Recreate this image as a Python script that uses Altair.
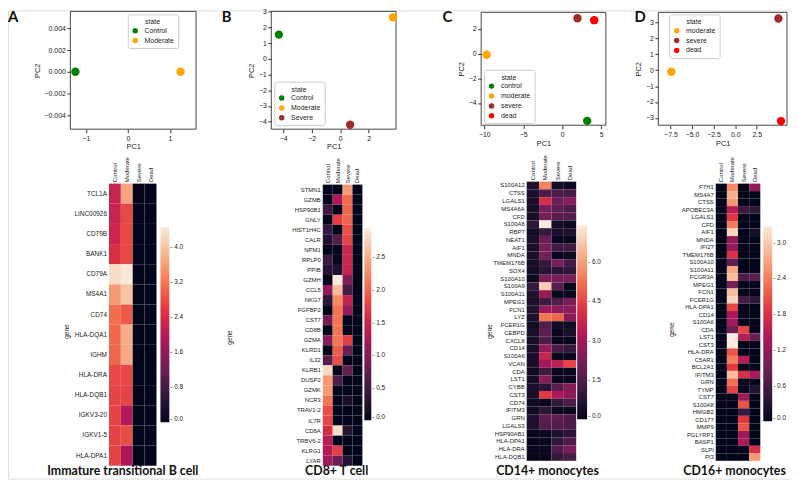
import altair as alt
import pandas as pd

# ---------------- data ----------------
HEAT_STATES = ["Control", "Moderate", "Severe", "Dead"]
ROCKET = ["#03051a", "#35193e", "#701f57", "#ad1759", "#e13342", "#f37651", "#f6b48f", "#faebdd"]

# PCA scatter data
a_states = ["Control", "Moderate"]
a_pc1 = [-1.25, 1.25]
a_pc2 = [0.0, 0.0]
a_colors = ["#008000", "#ffa500"]

b_states = ["Control", "Moderate", "Severe"]
b_pc1 = [-4.3, 3.7, 0.7]
b_pc2 = [1.55, 2.65, -4.2]
b_colors = ["#008000", "#ffa500", "#a52a2a"]

c_states = ["control", "moderate", "severe", "dead"]
c_pc1 = [3.2, -9.7, 1.95, 4.1]
c_pc2 = [-5.45, -0.1, 2.85, 2.7]
c_colors = ["#008000", "#ffa500", "#a52a2a", "#ff0000"]

d_states = ["moderate", "severe", "dead"]
d_pc1 = [-7.4, 5.0, 5.3]
d_pc2 = [-0.1, 3.25, -3.2]
d_colors = ["#ffa500", "#a52a2a", "#ff0000"]

# Heatmap A: Immature transitional B cell
a_genes = ["TCL1A", "LINC00926", "CD79B", "BANK1", "CD79A", "MS4A1", "CD74", "HLA-DQA1",
           "IGHM", "HLA-DRA", "HLA-DQB1", "IGKV3-20", "IGKV1-5", "HLA-DPA1"]
a_control = [2.2, 2.2, 2.25, 2.45, 4.25, 3.55, 3.1, 3.05, 3.05, 2.75, 2.7, 2.7, 2.7, 2.7]
a_moderate = [3.65, 2.75, 2.75, 2.75, 4.4, 4.0, 2.9, 3.75, 3.7, 2.75, 2.7, 1.95, 2.8, 1.9]
a_severe = [0, 0, 0, 0, 0, 0, 0, 0, 0, 0, 0, 0, 0, 0]
a_dead = [0, 0, 0, 0, 0, 0, 0, 0, 0, 0, 0, 0, 0, 0]

# Heatmap B: CD8+ T cell
b_genes = ["STMN1", "GZMB", "HSP90B1", "GNLY", "HIST1H4C", "CALR", "NPM1", "RPLP0", "PPIB",
           "GZMH", "CCL5", "NKG7", "FGFBP2", "CST7", "CD8B", "GZMA", "KLRD1", "IL32", "KLRB1",
           "DUSP2", "GZMK", "NCR3", "TRAV1-2", "IL7R", "CD8A", "TRBV6-2", "KLRG1", "LYAR"]
b_control = [0, 0, 0.45, 0, 0.4, 0.25, 0, 0.45, 0.3, 0, 1.1, 0.35, 0, 0.85, 0, 1.0, 0, 0.65,
             2.8, 2.35, 2.35, 2.1, 1.85, 1.8, 1.6, 1.35, 1.3, 1.2]
b_moderate = [0, 1.3, 0, 1.75, 0, 0.65, 0, 0, 0.25, 2.95, 2.6, 2.25, 2.1, 2.1, 2.1, 2.1, 1.95,
              1.85, 0, 0.6, 0, 0, 0, 0, 2.85, 0, 1.75, 0.8]
b_severe = [2.35, 2.05, 2.0, 2.0, 1.85, 1.8, 1.5, 1.5, 1.45, 0.95, 0.55, 1.45, 1.1, 0, 0, 1.75,
            0.8, 0, 0.75, 0, 0, 0.2, 0, 0, 0.3, 0, 0, 0.3]
b_dead = [0, 0, 0, 0, 0, 0, 0, 0, 0, 0, 0, 0, 0, 0, 0, 0, 0, 0, 0, 0, 0, 0, 0, 0, 0, 0, 0, 0]

# Heatmap C: CD14+ monocytes
c_genes = ["S100A12", "CTSS", "LGALS1", "MS4A6A", "CFD", "S100A8", "RBP7", "NEAT1", "AIF1",
           "MNDA", "TMEM176B", "SOX4", "S100A10", "S100A9", "S100A11", "MPEG1", "FCN1", "LYZ",
           "FCER1G", "CEBPD", "CXCL8", "CD14", "S100A6", "VCAN", "CDA", "LST1", "CYBB", "CST3",
           "CD74", "IFITM3", "GRN", "LGALS3", "HSP90AB1", "HLA-DPA1", "HLA-DRA", "HLA-DQB1"]
c_control = [0.6, 0.5, 0.5, 0.4, 0.4, 0.9, 0.3, 0.5, 0.5, 0.5, 0.4, 0.3, 0.2, 1.0, 0.6, 0.5,
             0.6, 0.6, 0.3, 0.5, 0.5, 0.5, 0.5, 0.5, 0.3, 0.4, 0.5, 0.4, 0.3, 0.3, 0.6, 0.6,
             0.1, 0.1, 0.1, 0.1]
c_moderate = [5.5, 1.5, 4.0, 2.2, 2.2, 7.4, 1.1, 2.0, 2.2, 2.2, 1.0, 0.8, 2.3, 6.8, 2.8, 1.2,
              2.9, 5.3, 1.6, 1.8, 1.5, 2.7, 3.7, 3.0, 1.2, 2.6, 0.8, 4.3, 0.1, 0.9, 1.8, 1.6,
              0.1, 0.1, 0.1, 0.1]
c_severe = [0.4, 1.5, 2.0, 1.8, 1.7, 0.4, 0.5, 0.1, 1.3, 0.1, 2.2, 0.8, 2.2, 1.7, 0.1, 1.5,
            2.6, 5.0, 0.3, 0.1, 0.1, 1.4, 0.1, 3.5, 0.1, 0.1, 1.7, 3.2, 1.0, 0.2, 1.8, 1.6,
            0.6, 1.0, 1.5, 1.0]
c_dead = [0.2, 1.4, 2.5, 1.5, 1.7, 0.2, 0.6, 0.1, 1.3, 0.2, 1.3, 0.9, 2.3, 0.1, 0.1, 2.2,
          2.6, 2.5, 0.3, 0.5, 0.1, 1.0, 0.1, 4.5, 0.1, 0.1, 2.5, 2.6, 1.5, 0.2, 1.5, 1.5,
          0.8, 1.5, 2.3, 1.4]

# Heatmap D: CD16+ monocytes
d_genes = ["FTH1", "MS4A7", "CTSS", "APOBEC3A", "LGALS1", "CFD", "AIF1", "MNDA", "IFI27",
           "TMEM176B", "S100A10", "S100A11", "FCGR3A", "MPEG1", "FCN1", "FCER1G", "HLA-DPA1",
           "CD14", "S100A6", "CDA", "LST1", "CST3", "HLA-DRA", "C5AR1", "BCL2A1", "IFITM3",
           "GRN", "TYMP", "CST7", "S100A8", "HMGB2", "CD177", "MMP9", "PGLYRP1", "BASP1",
           "SLPI", "PI3"]
d_control = [0, 0, 0, 0, 0, 0, 0, 0, 0, 0, 0, 0, 0, 0, 0, 0, 0, 0, 0, 0, 0, 0, 0, 0, 0, 0,
             0, 0, 0, 0, 0, 0, 0, 0, 0, 0, 0]
d_moderate = [2.5, 2.8, 2.6, 1.5, 1.9, 2.4, 3.1, 1.2, 1.2, 1.8, 0.8, 2.7, 2.9, 1.0, 2.9, 3.1,
              2.0, 1.4, 1.3, 0.9, 3.28, 3.28, 2.1, 2.4, 1.9, 2.9, 2.3, 2.0, 0, 0, 0, 0, 0, 0,
              0, 0, 0]
d_severe = [0, 0, 0, 0.5, 0, 0, 0, 0, 0, 0, 0, 0, 0.7, 0, 0, 0.6, 0, 0, 0, 2.0, 1.5, 0, 0,
            1.5, 0, 1.8, 0, 0, 1.3, 2.1, 0.5, 1.9, 2.1, 1.3, 1.4, 0, 0]
d_dead = [1.2, 0, 0, 0.4, 0, 0, 0.2, 0, 0, 0, 0, 0, 0.8, 0, 0, 0.4, 0, 0, 0, 0, 0.9, 0, 0, 0,
          0, 1.4, 0, 0.3, 0, 0, 0, 0, 0, 0, 0, 1.8, 2.6]

W, H = 790, 473
FONT = "Liberation Sans"
TXT = "#222222"


def scatter(states, pc1, pc2, colors, xdom, ydom, xr, yr, xticks, yticks, xfmt, yfmt, lx, ly):
    df = pd.DataFrame({"state": states, "PC1": pc1, "PC2": pc2})
    fr = pd.DataFrame({"x0": [xdom[0]], "x1": [xdom[1]], "y0": [ydom[0]], "y1": [ydom[1]]})
    frame = alt.Chart(fr).mark_rect(fillOpacity=0, stroke="#333333", strokeWidth=0.9).encode(
        x=alt.X("x0:Q", scale=alt.Scale(domain=xdom, range=xr, nice=False, zero=False), axis=None),
        x2="x1",
        y=alt.Y("y0:Q", scale=alt.Scale(domain=ydom, range=yr, nice=False, zero=False), axis=None),
        y2="y1")
    pts = alt.Chart(df).mark_circle(size=72, opacity=1).encode(
        x=alt.X("PC1:Q", scale=alt.Scale(domain=xdom, range=xr, nice=False, zero=False),
                axis=alt.Axis(
            orient="bottom", offset=yr[0] - H, values=xticks, format=xfmt, title="PC1",
            domain=False, grid=False, tickSize=3.5, tickColor="#333333", labelFontSize=7,
            labelColor=TXT, labelFont=FONT, labelPadding=1.5, titleFont=FONT, titleFontSize=7.5,
            titleFontWeight="normal", titleColor=TXT, titlePadding=2, labelFlush=False)),
        y=alt.Y("PC2:Q", scale=alt.Scale(domain=ydom, range=yr, nice=False, zero=False),
                axis=alt.Axis(
            orient="left", offset=-xr[0], values=yticks, format=yfmt, title="PC2",
            domain=False, grid=False, tickSize=3.5, tickColor="#333333", labelFontSize=7,
            labelColor=TXT, labelFont=FONT, labelPadding=1.5, titleFont=FONT, titleFontSize=7.5,
            titleFontWeight="normal", titleColor=TXT, titlePadding=3, labelFlush=False)),
        color=alt.Color("state:N", sort=states, scale=alt.Scale(domain=states, range=colors),
                        legend=alt.Legend(
                            orient="none", legendX=lx, legendY=ly, title="state",
                            titleFontSize=7, titleFontWeight="normal", titleColor=TXT,
                            titleFont=FONT, titleAnchor="middle", titlePadding=2,
                            labelFontSize=7, labelColor=TXT, labelFont=FONT, symbolSize=30,
                            symbolType="circle", symbolStrokeWidth=0, strokeColor="#cccccc",
                            fillColor="white", padding=4, cornerRadius=2, rowPadding=2,
                            labelOffset=6)))
    return [frame, pts]


def heatmap(genes, cols, vmax, xr, yr, ticks, fmt, lx, ly, gw, glen, tx, ty, lfs):
    rows = []
    for si, s in enumerate(HEAT_STATES):
        for gi, g in enumerate(genes):
            rows.append({"state": s, "gene": g, "value": cols[si][gi]})
    df = pd.DataFrame(rows)
    cdom = [vmax * i / 7 for i in range(8)]
    return alt.Chart(df).mark_rect(strokeWidth=0).encode(
        x=alt.X("state:N", sort=HEAT_STATES,
                scale=alt.Scale(domain=HEAT_STATES, range=xr, paddingInner=0, paddingOuter=0),
                axis=alt.Axis(orient="top", offset=-yr[0], labelAngle=270, ticks=False,
                              domain=False, grid=False, labelFontSize=6, labelFont=FONT,
                              labelColor=TXT, labelPadding=2, title=None)),
        y=alt.Y("gene:N", sort=genes,
                scale=alt.Scale(domain=genes, range=yr, paddingInner=0, paddingOuter=0),
                axis=alt.Axis(orient="left", offset=-xr[0], ticks=False, domain=False,
                              grid=False, labelFontSize=lfs, labelFont=FONT, labelColor=TXT,
                              labelPadding=2.5, title="gene", titleFont=FONT, titleFontSize=6.5,
                              titleFontWeight="normal", titleColor=TXT, titleX=tx, titleY=ty,
                              titleAngle=270, titleAlign="center", titleBaseline="middle")),
        color=alt.Color("value:Q", scale=alt.Scale(domain=cdom, range=ROCKET, interpolate="rgb"),
                        legend=alt.Legend(
                            orient="none", legendX=lx, legendY=ly, direction="vertical",
                            title=None, gradientLength=glen, gradientThickness=gw,
                            gradientStrokeWidth=0, values=ticks, format=fmt, labelFontSize=6.5,
                            labelFont=FONT, labelColor=TXT, labelOffset=1, labelOverlap=False,
                            labelExpr="'- ' + datum.label")))


def text(label, x, y, size, align="left", baseline="top"):
    return alt.Chart(pd.DataFrame({"label": [label]})).mark_text(
        font="Lato", fontWeight="bold", fontSize=size, align=align, baseline=baseline,
        color="#111111").encode(text="label:N", x=alt.value(x), y=alt.value(y))


sA = scatter(a_states, a_pc1, a_pc2, a_colors, [-1.37, 1.62], [-0.0053, 0.00557],
             [63, 190], [120, 1], [-1, 0, 1], [-0.004, -0.002, 0, 0.002, 0.004], "d", ".3f",
             121, 4)
sB = scatter(b_states, b_pc1, b_pc2, b_colors, [-4.83, 3.92], [-4.48, 3.03],
             [266, 392], [120, 1], [-4, -2, 0, 2], [-4, -3, -2, -1, 0, 1, 2, 3], "d", "d",
             269, 72)
sC = scatter(c_states, c_pc1, c_pc2, c_colors, [-10.4, 5.6], [-5.8, 3.33],
             [478, 604], [116, 2], [-10, -5, 0, 5], [-4, -2, 0, 2], "d", "d",
             481, 60)
sD = scatter(d_states, d_pc1, d_pc2, d_colors, [-8.9, 6.0], [-3.46, 3.64],
             [657, 787], [116, 2], [-7.5, -5, -2.5, 0, 2.5], [-3, -2, -1, 0, 1, 2, 3], ".1f", "d",
             668, 4)

hA = heatmap(a_genes, [a_control, a_moderate, a_severe, a_dead], 4.45, [102, 150], [175, 460],
             [0, 0.8, 1.6, 2.4, 3.2, 4.0], ".1f", 154, 219, 9, 197, -43, 324, 6.5)
hB = heatmap(b_genes, [b_control, b_moderate, b_severe, b_dead], 2.95, [318, 358], [176, 460],
             [0, 0.5, 1.0, 1.5, 2.0, 2.5], ".1f", 360, 220, 7, 194, -94, 330, 6)
hC = heatmap(c_genes, [c_control, c_moderate, c_severe, c_dead], 7.4, [524, 574], [173, 455],
             [0, 1.5, 3.0, 4.5, 6.0], ".1f", 575, 217, 10, 196, -38, 324, 6)
hD = heatmap(d_genes, [d_control, d_moderate, d_severe, d_dead], 3.28, [715, 760], [175, 455],
             [0, 0.6, 1.2, 1.8, 2.4, 3.0], ".1f", 763, 218, 9, 197, -45, 322, 6)

letters = [text("A", 0, 0, 15), text("B", 216, 0, 15), text("C", 439, 0, 15),
           text("D", 633, 0, 15)]
titles = [text("Immature transitional B cell", 116, 465, 12.5, "center", "middle"),
          text("CD8+ T cell", 332, 465, 12.5, "center", "middle"),
          text("CD14+ monocytes", 545, 465, 12.5, "center", "middle"),
          text("CD16+ monocytes", 734, 465, 12.5, "center", "middle")]

chart = alt.layer(*sA, *sB, *sC, *sD, hA, hB, hC, hD, *letters, *titles).resolve_scale(
    x="independent", y="independent", color="independent"
).resolve_axis(x="independent", y="independent").resolve_legend(color="independent").properties(
    width=W, height=H, autosize=alt.AutoSizeParams(type="none"), padding=0
).configure_view(strokeWidth=0).configure(background="white")

chart.save("out.html", embed_options={"renderer": "svg", "actions": False})
